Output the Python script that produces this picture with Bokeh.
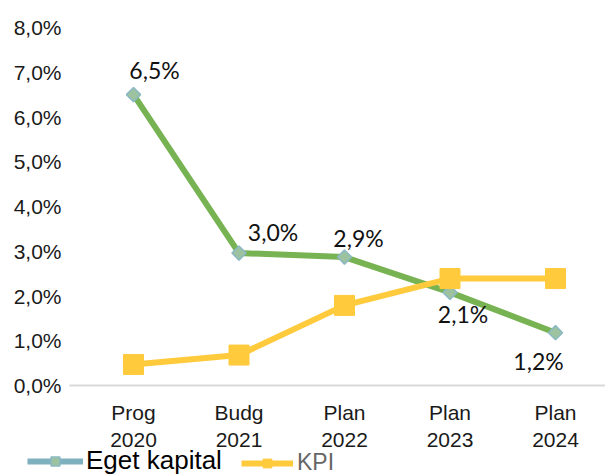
from bokeh.plotting import figure
from bokeh.models import (ColumnDataSource, Range1d, FixedTicker, Legend, LegendItem)
from bokeh.core.properties import value
from bokeh.embed import file_html
from bokeh.resources import INLINE
import math

# ---- data ----
categories = ["Prog\n2020", "Budg\n2021", "Plan\n2022", "Plan\n2023", "Plan\n2024"]
eget_kapital = [6.5, 2.96, 2.87, 2.08, 1.18]
eget_labels = ["6,5%", "3,0%", "2,9%", "2,1%", "1,2%"]
kpi = [0.47, 0.68, 1.79, 2.39, 2.39]
y_ticks = [0, 1, 2, 3, 4, 5, 6, 7, 8]
y_tick_labels = ["0,0%", "1,0%", "2,0%", "3,0%", "4,0%", "5,0%", "6,0%", "7,0%", "8,0%"]

# label placement (screen px offsets)
label_dx = [21, 34, 14, 13, -17]
label_dy = [-25, -21, -19, 22, 28]

W, H = 605, 476
# geometry of the plotting area (pixels)
X0_PX, X_STEP_PX = 133, 105.5      # centre of first category, spacing
Y0_PX, Y_UNIT_PX = 385, 44.75      # pixel row of 0 %, pixels per 1 %
AXIS_LEFT_PX = 69

GREEN = "#77B352"
YELLOW = "#FFCA3C"
TEAL = "#7FB0BD"
DIAMOND_FILL = "#9DC29F"
DIAMOND_LINE = "#8BB8C4"

xs = list(range(len(categories)))

x_left = (0 - X0_PX) / X_STEP_PX
x_right = (W - X0_PX) / X_STEP_PX
x_axis_start = (AXIS_LEFT_PX - X0_PX) / X_STEP_PX
y_top = (Y0_PX - 0) / Y_UNIT_PX
y_bottom = (Y0_PX - H) / Y_UNIT_PX

p = figure(width=W, height=H, output_backend="svg", toolbar_location=None,
           x_range=Range1d(x_left, x_right), y_range=Range1d(y_bottom, y_top),
           min_border=0, min_border_left=0, min_border_right=0,
           min_border_top=0, min_border_bottom=0)
p.outline_line_color = None
p.xgrid.visible = False
p.ygrid.visible = False
p.background_fill_color = "white"
p.border_fill_color = "white"

# y axis (drawn inside the frame at the left edge of the category area)
p.yaxis.fixed_location = x_axis_start
p.yaxis.ticker = FixedTicker(ticks=y_ticks)
p.yaxis.major_label_overrides = {t: l for t, l in zip(y_ticks, y_tick_labels)}
p.yaxis.axis_line_color = None
p.yaxis.major_tick_line_color = None
p.yaxis.minor_tick_line_color = None
p.yaxis.major_label_text_font = "Liberation Sans"
p.yaxis.major_label_text_font_size = "21px"
p.yaxis.major_label_text_color = "#1a1a1a"
p.yaxis.major_label_standoff = 2

# x axis at 0 %
p.xaxis.fixed_location = 0
p.xaxis.bounds = (x_axis_start, x_right)
p.xaxis.ticker = FixedTicker(ticks=xs)
p.xaxis.major_label_overrides = {i: c for i, c in zip(xs, categories)}
p.xaxis.axis_line_color = "#D9D9D9"
p.xaxis.axis_line_width = 2
p.xaxis.major_tick_line_color = None
p.xaxis.minor_tick_line_color = None
p.xaxis.major_label_text_font = "Liberation Sans"
p.xaxis.major_label_text_font_size = "21px"
p.xaxis.major_label_text_color = "#1a1a1a"
p.xaxis.major_label_standoff = 9

src_e = ColumnDataSource(dict(x=xs, y=eget_kapital, lab=eget_labels, dx=label_dx, dy=label_dy))
src_k = ColumnDataSource(dict(x=xs, y=kpi))

p.line("x", "y", source=src_e, line_color=GREEN, line_width=6)
p.scatter("x", "y", source=src_e, marker="square", angle=math.pi / 4, size=10,
          fill_color=DIAMOND_FILL, line_color=DIAMOND_LINE, line_width=1.5)

p.line("x", "y", source=src_k, line_color=YELLOW, line_width=6)
p.scatter("x", "y", source=src_k, marker="square", size=20,
          fill_color=YELLOW, line_color=YELLOW)

p.text("x", "y", text="lab", source=src_e, x_offset="dx", y_offset="dy",
       text_font=value("Lato"), text_font_size="23px", text_color="#111111",
       text_align="center", text_baseline="middle")

# legend swatches (Excel draws them slightly differently from the series);
# hidden renderers over the same data, used only for the legend glyphs
e_line = p.line("x", "y", source=src_e, line_color=TEAL, line_width=6, visible=False)
e_mark = p.scatter("x", "y", source=src_e, marker="square", angle=math.pi / 4, size=8,
                   fill_color=DIAMOND_FILL, line_color=DIAMOND_LINE, line_width=1.5,
                   visible=False)
k_line = p.line("x", "y", source=src_k, line_color=YELLOW, line_width=6, visible=False)
k_mark = p.scatter("x", "y", source=src_k, marker="square", size=14,
                   fill_color=YELLOW, line_color=YELLOW, visible=False)

LEG_VY = 0
common = dict(orientation="horizontal", glyph_height=22, label_height=22,
              padding=0, margin=0, spacing=0, border_line_color=None,
              background_fill_alpha=0, inactive_fill_alpha=0,
              label_text_font="Liberation Sans")
leg1 = Legend(items=[LegendItem(label="Eget kapital", renderers=[e_line, e_mark])],
              location=(27, LEG_VY), glyph_width=56, label_standoff=3,
              label_text_font_size="26px", label_text_color="#000000", **common)
leg2 = Legend(items=[LegendItem(label="KPI", renderers=[k_line, k_mark])],
              location=(241, LEG_VY), glyph_width=52, label_standoff=4,
              label_text_font_size="23px", label_text_color="#666666", **common)
p.add_layout(leg1, "center")
p.add_layout(leg2, "center")

open("out.html", "w").write(file_html(p, INLINE))
